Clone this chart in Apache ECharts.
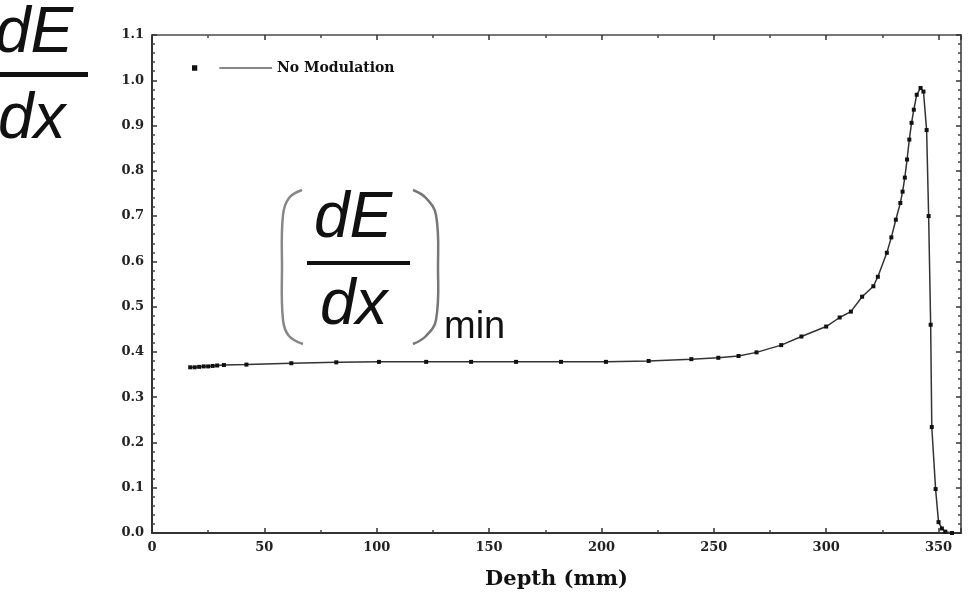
<!DOCTYPE html>
<html>
<head>
<meta charset="utf-8">
<script src="https://cdn.jsdelivr.net/npm/echarts@6/dist/echarts.min.js"></script>
<style>html,body{margin:0;padding:0;background:#fff;}#c{width:972px;height:599px;}</style>
</head>
<body>
<div id="c"></div>
<script>
const seriesName = 'No Modulation';
const depth = [17,19,21,23,25,27,29,32,42,62,82,101,122,142,162,182,202,221,240,252,261,269,280,289,300,306,311,316,321,323,327,329,331,333,334,335,336,337,338,339,340.3,342,343.3,344.7,345.6,346.5,347,348.7,350,351.5,353,356];
const dose = [0.366,0.366,0.367,0.368,0.368,0.369,0.370,0.371,0.372,0.375,0.377,0.378,0.378,0.378,0.378,0.378,0.378,0.380,0.384,0.387,0.391,0.399,0.415,0.434,0.456,0.476,0.489,0.522,0.545,0.566,0.619,0.653,0.692,0.729,0.754,0.785,0.825,0.869,0.906,0.935,0.968,0.983,0.975,0.89,0.70,0.46,0.234,0.097,0.024,0.01,0.003,0.0];
const xTicks = [0,50,100,150,200,250,300,350];
const yTicks = [0.0,0.1,0.2,0.3,0.4,0.5,0.6,0.7,0.8,0.9,1.0,1.1];
const xLabel = 'Depth (mm)';

const chart = echarts.init(document.getElementById('c'));
const serif = '"DejaVu Serif", serif';
const axisCommon = {
  axisLine: {show: true, onZero: false, lineStyle: {color: '#333', width: 2}},
  axisTick: {show: true, inside: true, length: 5, lineStyle: {color: '#333', width: 1.5}},
  minorTick: {show: true, length: 3, lineStyle: {color: '#444', width: 1.5}},
  splitLine: {show: false}
};
chart.setOption({
  animation: false,
  backgroundColor: '#fff',
  grid: {left: 152, right: 11, top: 35, bottom: 66},
  legend: {
    left: 187, top: 56, itemWidth: 80, itemHeight: 6, itemGap: 6,
    icon: 'path://M0,0 L5,0 L5,5 L0,5 Z M26,2 L76,2 L76,3 L26,3 Z',
    itemStyle: {borderWidth: 0},
    textStyle: {fontFamily: serif, fontSize: 14, fontWeight: 'bold', color: '#111'},
    data: [seriesName]
  },
  xAxis: [
    Object.assign({}, axisCommon, {
      type: 'value', min: 0, max: 360, interval: 50, position: 'bottom',
      minorTick: Object.assign({}, axisCommon.minorTick, {splitNumber: 2}),
      axisLabel: {
        margin: 8, fontFamily: serif, fontSize: 13, fontWeight: 'bold', color: '#222',
        formatter: v => (xTicks.indexOf(v) >= 0 ? String(v) : '')
      },
      name: xLabel, nameLocation: 'middle', nameGap: 36,
      nameTextStyle: {fontFamily: serif, fontSize: 21, fontWeight: 'bold', color: '#111'}
    }),
    Object.assign({}, axisCommon, {
      type: 'value', min: 0, max: 360, interval: 50, position: 'top',
      axisLine: {show: true, onZero: false, lineStyle: {color: '#777', width: 2}},
      minorTick: Object.assign({}, axisCommon.minorTick, {splitNumber: 2}),
      axisLabel: {show: false}
    })
  ],
  yAxis: [
    Object.assign({}, axisCommon, {
      type: 'value', min: 0, max: 1.1, interval: 0.1, position: 'left',
      minorTick: Object.assign({}, axisCommon.minorTick, {splitNumber: 5}),
      axisLabel: {
        margin: 8, fontFamily: serif, fontSize: 13, fontWeight: 'bold', color: '#222',
        formatter: v => v.toFixed(1)
      }
    }),
    Object.assign({}, axisCommon, {
      type: 'value', min: 0, max: 1.1, interval: 0.1, position: 'right',
      axisLine: {show: true, onZero: false, lineStyle: {color: '#666', width: 2}},
      minorTick: Object.assign({}, axisCommon.minorTick, {splitNumber: 5}),
      axisLabel: {show: false}
    })
  ],
  series: [{
    name: seriesName,
    type: 'line',
    xAxisIndex: 0, yAxisIndex: 0,
    data: depth.map((d, i) => [d, dose[i]]),
    symbol: 'rect', symbolSize: 4, showAllSymbol: true,
    itemStyle: {color: '#111'},
    lineStyle: {color: '#333', width: 1.5}
  }],
  graphic: [
    {type: 'text', x: -5, y: 2, style: {text: 'dE', font: 'italic 64px "Liberation Sans"', fill: '#111', verticalAlign: 'top'}},
    {type: 'rect', shape: {x: 0, y: 72, width: 88, height: 5}, style: {fill: '#111'}},
    {type: 'text', x: -2, y: 88, style: {text: 'dx', font: 'italic 64px "Liberation Sans"', fill: '#111', verticalAlign: 'top'}},
    {type: 'polyline', shape: {points: [[302,190],[289,198],[283,215],[282,267],[283,320],[289,336],[303,344]], smooth: 0.4}, style: {stroke: '#888', lineWidth: 2.5, fill: null}},
    {type: 'polyline', shape: {points: [[413,190],[426,198],[436,215],[438,267],[436,320],[426,336],[413,344]], smooth: 0.4}, style: {stroke: '#777', lineWidth: 2.5, fill: null}},
    {type: 'text', x: 314, y: 187, style: {text: 'dE', font: 'italic 64px "Liberation Sans"', fill: '#111', verticalAlign: 'top'}},
    {type: 'rect', shape: {x: 307, y: 261, width: 103, height: 4}, style: {fill: '#111'}},
    {type: 'text', x: 320, y: 274, style: {text: 'dx', font: 'italic 64px "Liberation Sans"', fill: '#111', verticalAlign: 'top'}},
    {type: 'text', x: 444, y: 309, style: {text: 'min', font: '38px "Liberation Sans"', fill: '#111', verticalAlign: 'top'}}
  ]
});
</script>
</body>
</html>
